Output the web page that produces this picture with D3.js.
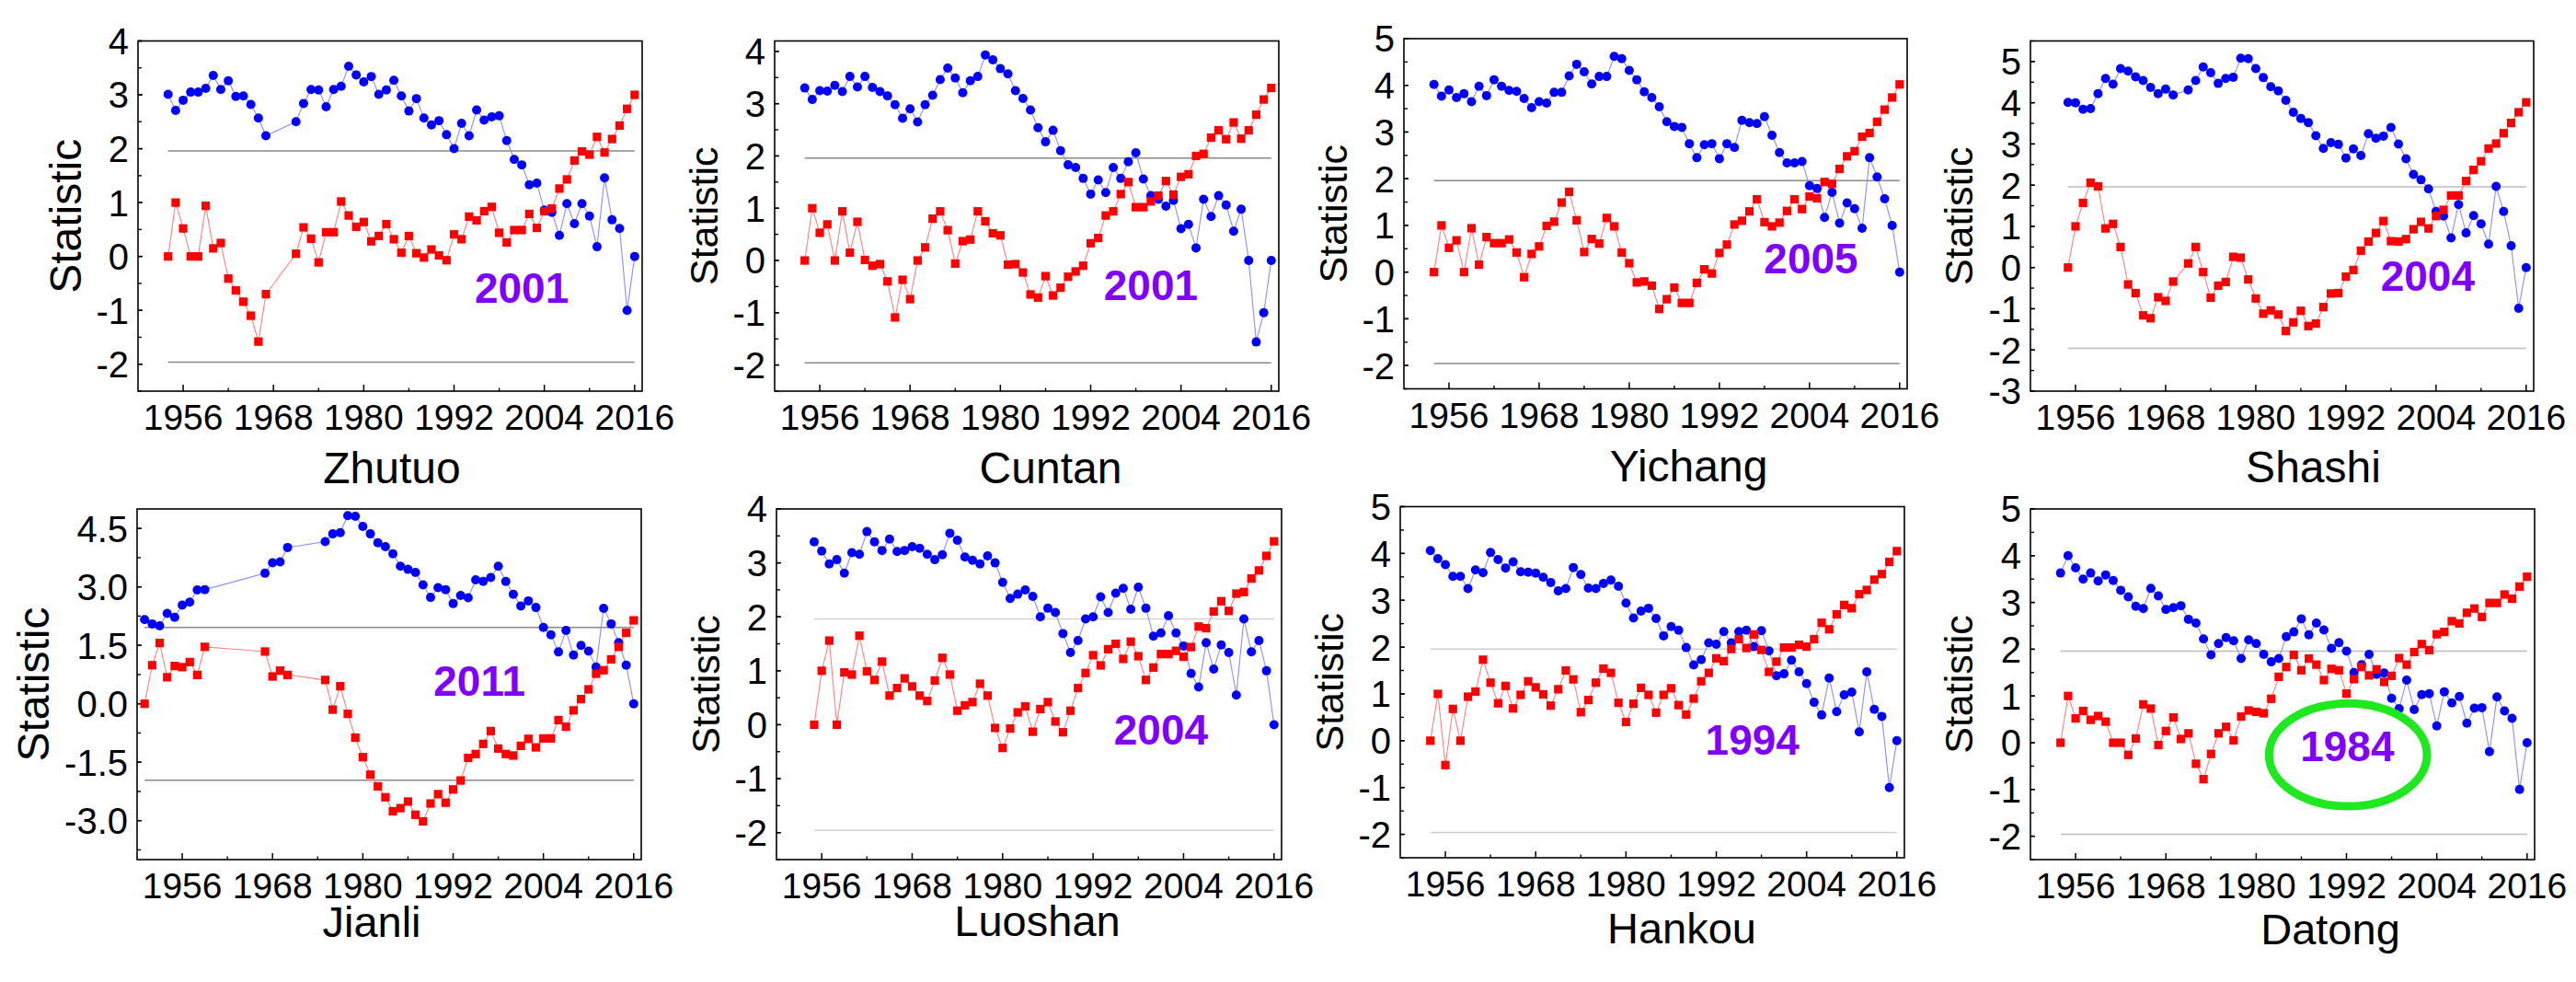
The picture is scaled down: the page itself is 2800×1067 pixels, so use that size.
<!DOCTYPE html>
<html><head><meta charset="utf-8">
<script src="https://cdn.jsdelivr.net/npm/d3@7"></script>
<style>
body{margin:0;background:#fff}
svg{display:block}
text{font-family:"Liberation Sans",Arial,Helvetica,sans-serif;fill:#000}
</style>
</head><body>
<svg id="chart" width="2800" height="1067"></svg>
<script>
const span = (a, b) => d3.range(a, b + 1);

// ---------------- data ----------------
const stations = ["Zhutuo", "Cuntan", "Yichang", "Shashi", "Jianli", "Luoshan", "Hankou", "Datong"];
const changeYears = ["2001", "2001", "2005", "2004", "2011", "2004", "1994", "1984"];

const zhutuoYears = span(1954, 1967).concat(span(1971, 2016));
const zhutuoUF = [0,1.0,0.52,0,0,0.94,0.15,0.25,-0.41,-0.63,-0.84,-1.10,-1.58,-0.70,
  0.05,0.54,0.33,-0.11,0.45,0.45,1.02,0.76,0.55,0.64,0.28,0.38,0.60,0.32,0.07,0.38,0.06,-0.02,0.13,0.02,
  -0.07,0.41,0.32,0.74,0.67,0.84,0.92,0.44,0.26,0.49,0.49,0.79,0.53,0.84,0.89,1.26,1.43,1.78,1.95,1.89,
  2.22,1.93,2.18,2.43,2.74,3.0];
const zhutuoUB = [3.01,2.71,2.90,3.05,3.05,3.12,3.36,3.10,3.26,2.97,2.98,2.82,2.57,2.24,
  2.50,2.84,3.10,3.09,2.78,3.10,3.16,3.53,3.37,3.24,3.34,3.01,3.09,3.27,2.98,2.70,2.93,2.57,2.44,2.52,
  2.26,2.00,2.47,2.24,2.72,2.53,2.59,2.61,2.15,1.80,1.70,1.33,1.36,0.86,0.82,0.39,0.98,0.61,0.98,0.75,
  0.18,1.46,0.68,0.52,-1.0,0];

const cuntanYears = span(1954, 2016);
const cuntanUF = [0,1.0,0.53,0.69,0,0.94,0.15,0.74,0.01,-0.10,
  -0.07,-0.40,-1.09,-0.37,-0.74,0,0.25,0.80,0.94,0.58,
  -0.06,0.37,0.40,0.94,0.75,0.52,0.48,-0.08,-0.07,-0.23,
  -0.65,-0.71,-0.30,-0.67,-0.52,-0.31,-0.21,-0.10,0.33,0.43,
  0.86,0.94,1.27,1.50,1.02,1.02,1.13,1.24,1.52,1.26,
  1.60,1.65,2.00,2.04,2.35,2.49,2.32,2.64,2.33,2.49,
  2.79,3.08,3.30];
const cuntanUB = [3.30,3.08,3.25,3.24,3.35,3.23,3.52,3.32,3.52,3.31,
  3.23,3.15,2.98,2.72,2.90,2.65,2.98,3.16,3.46,3.68,
  3.49,3.21,3.44,3.52,3.93,3.84,3.67,3.57,3.25,3.10,
  2.88,2.54,2.27,2.49,2.10,1.83,1.78,1.57,1.27,1.54,
  1.30,1.78,1.57,1.89,2.06,1.56,1.24,1.17,1.04,1.15,
  0.61,0.69,0.24,1.17,0.84,1.24,1.06,0.56,0.98,0,
  -1.56,-1.0,0];

const yichangYears = span(1954, 2016);
const yichangUF = [0,1.0,0.52,0.68,0,0.94,0.16,0.75,0.62,0.62,
  0.70,0.42,-0.11,0.39,0.55,0.99,1.08,1.49,1.72,1.11,
  0.43,0.71,0.61,1.16,0.98,0.42,0.19,-0.22,-0.20,-0.29,
  -0.79,-0.58,-0.33,-0.66,-0.66,-0.23,0.06,-0.03,0.41,0.59,
  1.02,1.10,1.30,1.56,1.07,0.98,1.06,1.31,1.56,1.35,
  1.62,1.58,1.93,1.89,2.21,2.48,2.59,2.90,2.98,3.22,
  3.48,3.74,4.02];
const yichangUB = [4.02,3.77,3.90,3.74,3.82,3.65,3.98,3.78,4.12,3.98,
  3.89,3.87,3.72,3.52,3.65,3.62,3.85,3.85,4.20,4.45,
  4.29,4.03,4.19,4.19,4.62,4.57,4.32,4.12,3.86,3.74,
  3.54,3.22,3.12,3.10,2.75,2.45,2.73,2.75,2.43,2.75,
  2.67,3.25,3.20,3.18,3.33,2.93,2.56,2.34,2.34,2.37,
  1.85,1.79,1.17,1.71,1.05,1.48,1.36,0.94,2.45,2.04,
  1.57,1.00,0];

const shashiYears = span(1955, 1969).concat(span(1971, 2016));
const shashiUF = [0,1.0,1.57,2.06,1.97,0.95,1.06,0.50,-0.41,-0.62,-1.16,-1.23,-0.72,-0.81,-0.34,
  0.10,0.50,-0.11,-0.73,-0.44,-0.35,0.26,0.24,-0.29,-0.75,
  -1.12,-1.04,-1.14,-1.54,-1.33,-1.05,-1.42,-1.36,-0.96,-0.63,
  -0.62,-0.22,-0.06,0.41,0.63,0.84,1.13,0.64,0.63,0.69,
  0.93,1.11,0.95,1.25,1.40,1.75,1.75,2.10,2.37,2.58,
  2.89,3.01,3.26,3.51,3.77,4.01];
const shashiUB = [4.01,4.00,3.84,3.86,4.22,4.59,4.45,4.83,4.77,4.63,4.54,4.37,4.22,4.33,4.19,
  4.31,4.54,4.87,4.73,4.47,4.59,4.62,5.08,5.07,4.83,
  4.61,4.39,4.29,4.06,3.77,3.62,3.52,3.20,2.89,3.03,
  2.99,2.66,2.88,2.72,3.25,3.14,3.19,3.40,3.00,2.64,
  2.26,2.13,1.91,1.36,1.25,0.72,1.53,0.84,1.26,1.06,
  0.57,1.97,1.36,0.53,-0.99,0];

const jianliYears = span(1951, 1959).concat(span(1967, 1970), span(1975, 2016));
const jianliUF = [0,0.99,1.56,0.68,0.97,0.94,1.07,0.74,1.46,
  1.34,0.70,0.85,0.74,
  0.61,-0.15,0.45,-0.26,-0.87,
  -1.37,-1.82,-2.12,-2.40,-2.76,-2.68,-2.51,-2.85,-3.02,-2.56,
  -2.32,-2.54,-2.20,-1.97,-1.39,-1.29,-1.03,-0.70,-1.15,-1.29,
  -1.33,-1.08,-0.90,-1.12,-0.89,-0.89,-0.42,-0.59,-0.17,0.12,
  0.37,0.77,0.86,1.14,1.46,1.82,2.14];
const jianliUB = [2.16,2.05,2.00,2.32,2.22,2.53,2.61,2.92,2.93,
  3.35,3.62,3.64,4.01,
  4.16,4.36,4.39,4.83,4.81,
  4.55,4.36,4.13,4.03,3.85,3.53,3.45,3.37,3.05,2.73,
  2.98,2.93,2.57,2.78,2.72,3.18,3.14,3.24,3.53,3.14,
  2.81,2.51,2.64,2.47,1.96,1.77,1.33,1.88,1.25,1.50,
  1.35,0.94,2.45,2.05,1.57,0.99,0];

const luoshanYears = span(1955, 2016);
const luoshanUF = [0,1.0,1.56,0,0.97,0.93,1.65,0.99,0.83,1.17,
  0.54,0.68,0.86,0.71,0.54,0.44,0.82,1.24,0.93,0.26,
  0.36,0.42,0.76,0.54,-0.06,-0.43,-0.07,0.23,0.34,-0.13,
  0.29,0.42,0.06,-0.14,0.26,0.68,0.96,1.29,1.10,1.40,
  1.50,1.22,1.54,1.27,0.83,1.06,1.31,1.31,1.37,1.26,
  1.44,1.82,1.79,2.10,2.29,2.11,2.43,2.46,2.71,2.86,
  3.13,3.40];
const luoshanUB = [3.39,3.22,2.98,3.06,2.81,3.19,3.16,3.58,3.39,3.23,
  3.44,3.21,3.23,3.30,3.27,3.16,3.06,3.15,3.55,3.42,
  3.11,3.05,2.98,3.13,3.00,2.64,2.34,2.42,2.50,2.38,
  2.00,2.16,2.08,1.69,1.34,1.56,1.96,2.00,2.37,2.08,
  2.44,2.53,2.14,2.55,2.16,1.64,1.70,2.02,1.70,1.46,
  0.95,0.70,1.52,1.03,1.48,1.34,0.55,1.96,1.35,1.56,
  1.0,0];

const hankouYears = span(1954, 2016);
const hankouUF = [0,1.0,-0.52,0.68,0,0.94,1.05,1.73,1.24,0.80,
  1.17,0.69,0.98,1.27,1.14,0.99,0.75,1.10,1.50,1.31,
  0.61,0.87,1.24,1.54,1.45,0.81,0.40,0.79,1.13,0.98,
  0.60,0.98,1.12,0.76,0.56,0.90,1.27,1.45,1.76,1.70,
  1.96,2.17,1.98,2.27,1.94,1.47,1.69,1.99,1.99,2.05,
  2.01,2.17,2.52,2.38,2.70,2.90,2.83,3.13,3.22,3.44,
  3.56,3.82,4.05];
const hankouUB = [4.06,3.89,3.76,3.51,3.51,3.25,3.65,3.59,4.02,3.87,
  3.69,3.82,3.61,3.60,3.58,3.49,3.38,3.20,3.25,3.70,
  3.55,3.26,3.25,3.36,3.43,3.30,2.94,2.62,2.77,2.83,
  2.61,2.24,2.44,2.36,1.99,1.62,1.73,2.09,2.06,2.33,
  2.09,2.33,2.36,2.01,2.35,1.92,1.39,1.43,1.72,1.47,
  1.22,0.82,0.55,1.34,0.62,0.98,1.04,0.19,1.47,0.67,
  0.52,-1.0,0];

const datongYears = span(1954, 2016);
const datongUF = [0,1.0,0.52,0.68,0.49,0.57,0.45,0,0,-0.26,
  0.09,0.82,0.73,-0.05,0.25,0.54,0.08,0.20,-0.45,-0.78,
  -0.24,0.20,0.34,0.05,0.56,0.69,0.66,0.63,0.94,1.41,
  1.62,1.88,1.55,1.80,1.67,1.34,1.58,1.55,1.05,1.36,
  1.62,1.44,1.57,1.30,1.43,1.81,1.67,1.94,2.11,1.98,
  2.32,2.37,2.60,2.55,2.78,2.87,2.69,2.99,2.99,3.17,
  3.08,3.34,3.55];
const datongUB = [3.63,4.00,3.74,3.50,3.63,3.46,3.59,3.47,3.26,3.12,
  2.92,2.87,3.30,3.14,2.85,2.89,2.93,2.64,2.56,2.22,
  1.88,2.12,2.25,2.18,1.80,2.20,2.12,1.89,1.73,1.80,
  2.27,2.37,2.65,2.31,2.56,2.41,2.02,2.14,1.96,1.50,
  1.67,1.89,1.46,1.49,0.95,0.73,1.34,0.71,1.03,1.05,
  0.36,1.09,0.85,0.99,0.42,0.74,0.75,-0.19,0.98,0.68,
  0.52,-1.0,0];

const xTickYears = [1956, 1968, 1980, 1992, 2004, 2016];
const xMinorYears = [1962, 1974, 1986, 1998, 2010];
const criticalZ = [1.96, -1.96];

const seriesYears = [zhutuoYears, cuntanYears, yichangYears, shashiYears, jianliYears, luoshanYears, hankouYears, datongYears];
const seriesUF = [zhutuoUF, cuntanUF, yichangUF, shashiUF, jianliUF, luoshanUF, hankouUF, datongUF];
const seriesUB = [zhutuoUB, cuntanUB, yichangUB, shashiUB, jianliUB, luoshanUB, hankouUB, datongUB];

const yDomains = [[-2.5,4],[-2.5,4.2],[-2.5,5],[-3,5.5],[-4,5],[-2.5,4],[-2.5,5],[-2.5,5]];
const yTickSets = [
  [-2,-1,0,1,2,3,4],[-2,-1,0,1,2,3,4],[-2,-1,0,1,2,3,4,5],[-3,-2,-1,0,1,2,3,4,5],
  [-3,-1.5,0,1.5,3,4.5],[-2,-1,0,1,2,3,4],[-2,-1,0,1,2,3,4,5],[-2,-1,0,1,2,3,4,5]];
const yMinorSteps = [0.5,0.5,0.5,0.5,0.75,0.5,0.5,0.5];
// annotation position in data units [year, value]
const noteAt = [[2001,-0.86],[2000,-0.76],[2004.2,-0.02],[2002.9,-0.56],[1995.5,0.21],[2001,-0.37],[1996.8,-0.30],[1992.1,-0.39]];
const circleNote = {panel: 7, year: 1992.2, value: -0.26, rYears: 10.5, rValue: 1.1};

// ---------------- layout ----------------
const frames = [
  {l:150, t:44.5, r:698, b:425}, {l:842, t:44.5, r:1390, b:425},
  {l:1526, t:42, r:2073, b:422.5}, {l:2207, t:44.5, r:2754, b:425},
  {l:149, t:553, r:697, b:934}, {l:844, t:553, r:1393, b:934},
  {l:1522, t:550.5, r:2070, b:932}, {l:2207, t:553, r:2755, b:934}];
const nameDx = [2, 26, 36, 34, -19, 9, 32, 52];
const nameDy = [100, 100, 100, 99, 84, 83, 93, 92];
const nameSize = [48, 48, 48, 48, 47, 47, 47, 47];
const statDx = [-79, -77, -77, -78, -113, -77, -77, -78];
const statSize = [48, 43, 43, 43, 48, 43, 43, 43];
const refColor = ["#8a8a8a","#8a8a8a","#8a8a8a","#bdbdbd","#8a8a8a","#d4d4d4","#cfcfcf","#bdbdbd"];

const svg = d3.select("#chart");
svg.append("rect").attr("width", 2800).attr("height", 1067).attr("fill", "#fff");

const BLUE = "#0000ff", RED = "#ff0000";

stations.forEach((name, i) => {
  const f = frames[i];
  const g = svg.append("g");
  const x = d3.scaleLinear().domain([1950, 2017]).range([f.l, f.r]);
  const y = d3.scaleLinear().domain(yDomains[i]).range([f.b, f.t]);
  const years = seriesYears[i];
  const uf = seriesUF[i], ub = seriesUB[i];
  const fmt = yMinorSteps[i] === 0.75 ? (d => d.toFixed(1)) : (d => String(d));

  // reference lines
  g.selectAll("line.ref").data(criticalZ).join("line")
    .attr("x1", x(years[0])).attr("x2", x(years[years.length - 1]))
    .attr("y1", d => y(d)).attr("y2", d => y(d))
    .attr("stroke", refColor[i]).attr("stroke-width", 1.5);

  // y axis ticks (inward)
  const yMinor = d3.range(Math.ceil(yDomains[i][0] / yMinorSteps[i]) * yMinorSteps[i], yDomains[i][1] + 1e-9, yMinorSteps[i]);
  g.selectAll("line.ym").data(yMinor).join("line")
    .attr("x1", f.l).attr("x2", f.l + 4).attr("y1", d => y(d)).attr("y2", d => y(d))
    .attr("stroke", "#000").attr("stroke-width", 1.4);
  g.selectAll("line.yM").data(yTickSets[i]).join("line")
    .attr("x1", f.l).attr("x2", f.l + 5).attr("y1", d => y(d)).attr("y2", d => y(d))
    .attr("stroke", "#000").attr("stroke-width", 1.5);
  g.selectAll("text.yl").data(yTickSets[i]).join("text")
    .attr("x", f.l - 10).attr("y", d => y(d)).attr("dy", "0.36em")
    .attr("text-anchor", "end").attr("font-size", 40).text(fmt);

  // x axis ticks (inward)
  g.selectAll("line.xm").data(xMinorYears).join("line")
    .attr("x1", d => x(d)).attr("x2", d => x(d)).attr("y1", f.b).attr("y2", f.b - 3.5)
    .attr("stroke", "#000").attr("stroke-width", 1.4);
  g.selectAll("line.xM").data(xTickYears).join("line")
    .attr("x1", d => x(d)).attr("x2", d => x(d)).attr("y1", f.b).attr("y2", f.b - 7)
    .attr("stroke", "#000").attr("stroke-width", 1.5);
  g.selectAll("text.xl").data(xTickYears).join("text")
    .attr("x", d => x(d)).attr("y", f.b + 42)
    .attr("text-anchor", "middle").attr("font-size", 39).text(d => d);

  // series
  const ubPts = years.map((yr, k) => [yr, ub[k]]);
  const ufPts = years.map((yr, k) => [yr, uf[k]]);
  const line = d3.line().x(d => x(d[0])).y(d => y(d[1]));
  g.append("path").attr("d", line(ubPts)).attr("fill", "none")
    .attr("stroke", "#8c8cff").attr("stroke-width", 1.1);
  g.append("path").attr("d", line(ufPts)).attr("fill", "none")
    .attr("stroke", "#ff8080").attr("stroke-width", 1.1);
  g.selectAll("circle.ub").data(ubPts).join("circle")
    .attr("cx", d => x(d[0])).attr("cy", d => y(d[1])).attr("r", 5).attr("fill", BLUE);
  g.selectAll("rect.uf").data(ufPts).join("rect")
    .attr("x", d => x(d[0]) - 4.6).attr("y", d => y(d[1]) - 4.6)
    .attr("width", 9.2).attr("height", 9.2).attr("fill", RED);

  // frame
  g.append("rect").attr("x", f.l).attr("y", f.t).attr("width", f.r - f.l).attr("height", f.b - f.t)
    .attr("fill", "none").attr("stroke", "#000").attr("stroke-width", 1.6);

  // change-point annotation
  g.append("text").attr("x", x(noteAt[i][0])).attr("y", y(noteAt[i][1]))
    .attr("text-anchor", "middle").attr("font-size", 46).attr("font-weight", "bold")
    .style("fill", "#8000ff").text(changeYears[i]);

  if (circleNote.panel === i) {
    const cx = x(circleNote.year), cy = y(circleNote.value);
    g.append("ellipse").attr("cx", cx).attr("cy", cy)
      .attr("rx", x(circleNote.year + circleNote.rYears) - cx)
      .attr("ry", y(circleNote.value - circleNote.rValue) - cy)
      .attr("fill", "none").attr("stroke", "#1ee81e").attr("stroke-width", 9);
  }

  // titles
  g.append("text").attr("x", (f.l + f.r) / 2 + nameDx[i]).attr("y", f.b + nameDy[i])
    .attr("text-anchor", "middle").attr("font-size", nameSize[i]).text(name);
  g.append("text")
    .attr("transform", `translate(${f.l + statDx[i]},${(f.t + f.b) / 2}) rotate(-90)`)
    .attr("dy", "0.36em").attr("text-anchor", "middle").attr("font-size", statSize[i]).text("Statistic");
});
</script>
</body></html>
